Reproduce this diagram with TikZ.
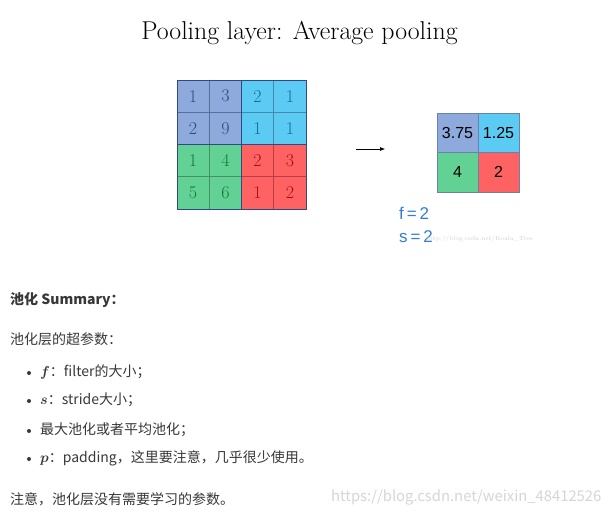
\documentclass[tikz,border=0pt]{standalone}
\usepackage{fontspec}
\usetikzlibrary{arrows.meta}
\newfontfamily\cjk{Noto Sans CJK SC}
\newfontfamily\hand{Liberation Sans}
\definecolor{cb}{HTML}{8EA9DB}
\definecolor{cc}{HTML}{5BCBF4}
\definecolor{cg}{HTML}{62D194}
\definecolor{cr}{HTML}{FF6262}
\definecolor{tb}{HTML}{2E4A84}
\definecolor{tc}{HTML}{186A96}
\definecolor{tg}{HTML}{1B7240}
\definecolor{tr}{HTML}{A01218}
\definecolor{txt}{HTML}{383838}
\definecolor{pen}{HTML}{2F7FD8}
\tikzset{
  num/.style={font=\fontsize{18}{18}\selectfont},
  hnum/.style={font=\hand\fontsize{16}{16}\selectfont, text=black},
  body/.style={font=\cjk\fontsize{14}{16}\selectfont, text=txt, anchor=west, inner sep=0},
  bul/.style={circle, fill=txt, inner sep=0, minimum size=4pt},
  pennote/.style={font=\hand\fontsize{17}{17}\selectfont, text=pen, anchor=west, inner sep=0},
}
\newcommand\mv[1]{{\boldmath\fontsize{15}{16}\selectfont$#1$}}
\begin{document}
\begin{tikzpicture}[x=1pt,y=-1pt]
\useasboundingbox (0,0) rectangle (612,516);
\fill[white] (0,0) rectangle (612,516);
\node (title) at (299.5,33) {\fontsize{25.8}{28}\selectfont Pooling layer: Average pooling};
% left matrix
\fill[cb] (177,80) rectangle (241.5,144.5);
\fill[cc] (241.5,80) rectangle (306,144.5);
\fill[cg] (177,144.5) rectangle (241.5,209);
\fill[cr] (241.5,144.5) rectangle (306,209);
\draw[tb!80, line width=0.6pt] (209.25,80) -- (209.25,144.5) (177,112.25) -- (241.5,112.25);
\draw[tc!80, line width=0.6pt] (273.75,80) -- (273.75,144.5) (241.5,112.25) -- (306,112.25);
\draw[tg!80, line width=0.6pt] (209.25,144.5) -- (209.25,209) (177,176.75) -- (241.5,176.75);
\draw[tr!80, line width=0.6pt] (273.75,144.5) -- (273.75,209) (241.5,176.75) -- (306,176.75);
\draw[tb, line width=0.8pt] (241.5,80) -- (241.5,209) (177,144.5) -- (306,144.5);
\draw[tb, line width=0.9pt] (177,80) rectangle (306,209);
\node[num, text=tb] (a11) at (193.1,96.1) {1};
\node[num, text=tb] (a12) at (225.4,96.1) {3};
\node[num, text=tc] (a13) at (257.6,96.1) {2};
\node[num, text=tc] (a14) at (289.9,96.1) {1};
\node[num, text=tb] (a21) at (193.1,128.4) {2};
\node[num, text=tb] (a22) at (225.4,128.4) {9};
\node[num, text=tc] (a23) at (257.6,128.4) {1};
\node[num, text=tc] (a24) at (289.9,128.4) {1};
\node[num, text=tg] (a31) at (193.1,160.6) {1};
\node[num, text=tg] (a32) at (225.4,160.6) {4};
\node[num, text=tr] (a33) at (257.6,160.6) {2};
\node[num, text=tr] (a34) at (289.9,160.6) {3};
\node[num, text=tg] (a41) at (193.1,192.9) {5};
\node[num, text=tg] (a42) at (225.4,192.9) {6};
\node[num, text=tr] (a43) at (257.6,192.9) {1};
\node[num, text=tr] (a44) at (289.9,192.9) {2};
% arrow
\coordinate (arrS) at (356,149);
\coordinate (arrE) at (385,149);
\draw[-{Latex[length=5pt,width=4pt]}, line width=0.6pt] (arrS) -- (arrE);
% right matrix
\fill[cb] (437,113) rectangle (478,152.5);
\fill[cc] (478,113) rectangle (519,152.5);
\fill[cg] (437,152.5) rectangle (478,192);
\fill[cr] (478,152.5) rectangle (519,192);
\draw[tb!70, line width=0.8pt] (478,113) -- (478,192) (437,152.5) -- (519,152.5);
\draw[tb!70, line width=0.9pt] (437,113) rectangle (519,192);
\node[hnum] (b11) at (457.5,132.5) {3.75};
\node[hnum] (b12) at (498.5,132.5) {1.25};
\node[hnum] (b21) at (457.5,172) {4};
\node[hnum] (b22) at (498.5,172) {2};
\node[pennote] (fl) at (399,213) {f\,=\,2};
\node[pennote] (sl) at (399,237) {s\,=\,2};
\node[font=\fontsize{6}{6}\selectfont, text=black!18, anchor=west, inner sep=0] (wm1) at (426,239) {http://blog.csdn.net/Koala\_Tree};
% text
\node[body, font=\cjk\bfseries\fontsize{14}{16}\selectfont] (h) at (10,300) {池化 Summary：};
\node[body] (p1) at (10,339) {池化层的超参数：};
\node[bul] (d1) at (29,373) {};
\node[body] (l1) at (40,372) {\mv{f}：filter的大小；};
\node[bul] (d2) at (29,401) {};
\node[body] (l2) at (40,400) {\mv{s}：stride大小；};
\node[bul] (d3) at (29,431) {};
\node[body] (l3) at (40,430) {最大池化或者平均池化；};
\node[bul] (d4) at (29,459) {};
\node[body] (l4) at (40,458) {\mv{p}：padding，这里要注意，几乎很少使用。};
\node[body] (p2) at (10,499) {注意，池化层没有需要学习的参数。};
\node[font=\cjk\fontsize{14.8}{16}\selectfont, text=black!16, anchor=west, inner sep=0] (wm2) at (331,497) {https://blog.csdn.net/weixin\_48412526};
\end{tikzpicture}
\end{document}
